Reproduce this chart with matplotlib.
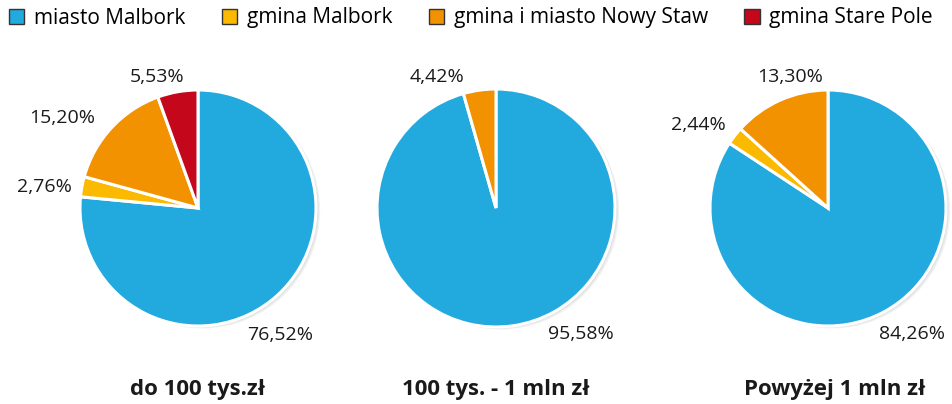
import matplotlib
matplotlib.use("Agg")
import matplotlib.pyplot as plt
from matplotlib.patches import Patch, Circle

categories = ["miasto Malbork", "gmina Malbork", "gmina i miasto Nowy Staw", "gmina Stare Pole"]
colors = ["#22AADF", "#FBBA00", "#F39200", "#C4071B"]
titles = ["do 100 tys.zł", "100 tys. - 1 mln zł", "Powyżej 1 mln zł"]
values_1 = [76.52, 2.76, 15.20, 5.53]
values_2 = [95.58, 0.0, 4.42, 0.0]
values_3 = [84.26, 2.44, 13.30, 0.0]
series = [values_1, values_2, values_3]

# label offsets (in radius units) for each nonzero slice
label_pos = [
    [(0.70, -1.08), (-1.30, 0.18), (-1.15, 0.76), (-0.35, 1.11)],
    [(0.71, -1.06), None, (-0.50, 1.10), None],
    [(0.71, -1.07), (-1.10, 0.70), (-0.32, 1.11), None],
]

plt.rcParams['font.family'] = ['Open Sans', 'DejaVu Sans']
W, H = 953, 404
fig = plt.figure(figsize=(W / 100, H / 100), dpi=100)

centers = [(198, 208, 118), (496, 208, 119), (828, 208, 118)]
title_x = [198, 496, 835]
half = 170

for i, (cx, cy, R) in enumerate(centers):
    ax = fig.add_axes([(cx - half) / W, (H - cy - half) / H, 2 * half / W, 2 * half / H])
    lim = half / R
    ax.set_aspect('equal')
    # soft shadow
    for k, a in enumerate([0.10, 0.10, 0.12]):
        off = 0.035 - k * 0.01
        ax.add_patch(Circle((off, -off * 0.6), 1.0, color='#888888', alpha=a, lw=0, zorder=0))
    vals = series[i]
    nz = [(v, c) for v, c in zip(vals, colors) if v > 0]
    ax.pie([v for v, _ in nz], colors=[c for _, c in nz], startangle=90, counterclock=False,
           radius=1.0, wedgeprops=dict(edgecolor='white', linewidth=2.2), frame=True)
    ax.set_xlim(-lim, lim)
    ax.set_ylim(-lim, lim)
    ax.axis('off')
    for v, pos in zip(vals, label_pos[i]):
        if v > 0 and pos is not None:
            ax.text(pos[0], pos[1], f"{v:.2f}%".replace('.', ','), ha='center', va='center',
                    fontsize=14, color='#1a1a1a')
    fig.text(title_x[i] / W, (H - 390) / H, titles[i], ha='center', va='center',
             fontsize=16, fontweight='bold', color='#1a1a1a')

handles = [Patch(facecolor=c, edgecolor='#333333', linewidth=1.0) for c in colors]
fig.legend(handles, categories, loc='center', bbox_to_anchor=(0.494, (H - 18) / H), ncol=4,
           frameon=False, fontsize=15, handlelength=0.75, handleheight=0.75,
           handletextpad=0.45, columnspacing=1.75, borderaxespad=0)

fig.savefig("out.png", dpi=100, facecolor='white')
